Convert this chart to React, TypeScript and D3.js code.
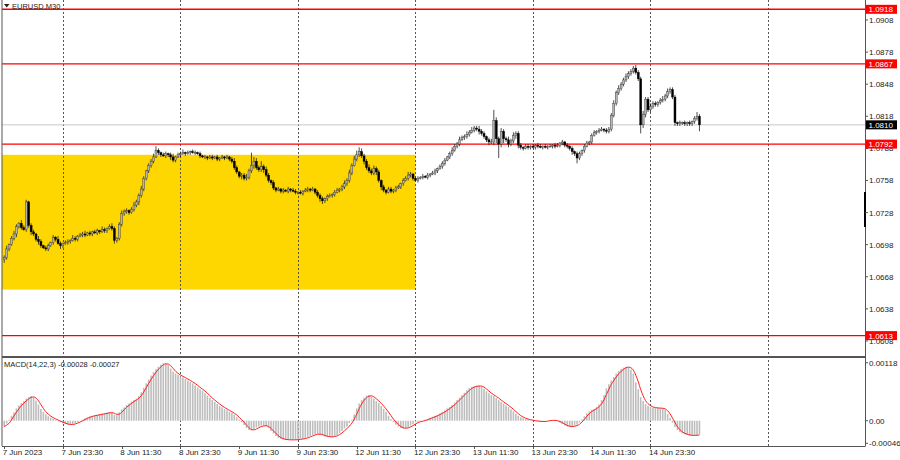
import React from "react";
import * as d3 from "d3";

// ---------- data ----------
const SYMBOL = "EURUSD,M30";
const BASE = 1.06; // closes are pips above this base
const PIP = 0.0001;
const FIRST_OPEN = 84;

const closes = [
  86, 94, 98, 104, 108, 115, 118, 114, 112, 138,
  116, 110, 108, 103, 101, 97, 95, 94, 97, 100,
  105, 103, 99, 97, 99, 100, 101, 102, 104, 103,
  106, 107, 108, 107, 109, 108, 110, 109, 111, 110,
  112, 111, 113, 115, 113, 102, 104, 117, 127, 129,
  130, 128, 131, 135, 138, 144, 150, 160, 167, 172,
  176, 180, 186, 184, 182, 181, 183, 182, 180, 177,
  180, 182, 183, 184, 183, 184, 185, 184, 184, 183,
  181, 180, 180, 179, 180, 179, 180, 178, 179, 180,
  179, 180, 178, 176, 170, 166, 162, 163, 160, 161,
  167, 172, 176, 170, 168, 171, 168, 163, 158, 156,
  151, 149, 150, 148, 149, 148, 150, 149, 148, 147,
  147, 146, 148, 149, 150, 149, 150, 147, 144, 141,
  139, 141, 143, 144, 145, 147, 149, 150, 152, 155,
  158, 165, 172, 178, 182, 185, 181, 176, 170, 167,
  165, 169, 166, 158, 152, 149, 147, 150, 148, 149,
  151, 152, 155, 158, 160, 163, 164, 160, 158, 160,
  161, 162, 161, 163, 164, 165, 167, 169, 171, 174,
  177, 180, 183, 186, 190, 192, 196, 198, 199, 201,
  203, 205, 207, 206, 204, 202, 199, 196, 194, 194,
  214, 197, 192, 204, 197, 196, 192, 195, 200, 202,
  191, 189, 188, 190, 189, 190, 189, 191, 190, 189,
  190, 189, 190, 190, 191, 190, 191, 193, 194, 191,
  190, 188, 185, 183, 179, 183, 186, 190, 193, 194,
  200, 203, 204, 205, 206, 205, 204, 206, 219, 230,
  240, 244, 248, 252, 255, 258, 260, 263, 259, 253,
  210, 220, 234, 224, 227, 230, 229, 231, 233, 234,
  237, 241, 243, 236, 212, 211, 212, 212, 211, 212,
  211, 213, 216, 218, 210,
];

const upperWicks = [
  2, 3, 1, 2, 3, 2, 1, 3, 2, 2,
  1, 2, 2, 1, 3, 2, 1, 2, 2, 1,
  2, 1, 3, 2, 1, 2, 2, 1, 3, 2,
  1, 2, 2, 3, 1, 2, 1, 2, 2, 1,
  3, 2, 1, 2, 3, 2, 1, 2, 3, 2,
  2, 1, 2, 3, 2, 2, 3, 2, 1, 2,
  2, 3, 4, 2, 1, 2, 2, 1, 2, 3,
  1, 2, 2, 3, 1, 2, 1, 2, 2, 1,
  2, 1, 2, 1, 2, 2, 1, 2, 1, 2,
  1, 2, 1, 2, 3, 2, 1, 2, 2, 3,
  2, 12, 4, 3, 2, 5, 2, 3, 2, 1,
  2, 1, 2, 1, 2, 1, 2, 1, 2, 2,
  1, 2, 1, 2, 2, 1, 2, 1, 2, 2,
  2, 1, 2, 2, 1, 2, 2, 1, 2, 3,
  2, 3, 2, 3, 4, 4, 3, 2, 2, 3,
  2, 3, 2, 2, 1, 2, 1, 2, 2, 1,
  2, 2, 1, 2, 2, 3, 2, 1, 2, 2,
  1, 2, 1, 2, 1, 2, 2, 1, 2, 2,
  2, 1, 2, 3, 2, 2, 3, 2, 2, 3,
  2, 3, 2, 2, 3, 2, 2, 1, 2, 3,
  10, 3, 2, 3, 2, 2, 3, 2, 3, 2,
  2, 2, 1, 2, 2, 1, 2, 1, 2, 2,
  1, 2, 1, 2, 1, 2, 2, 1, 2, 1,
  2, 1, 2, 1, 2, 2, 1, 2, 2, 1,
  2, 2, 1, 2, 2, 1, 2, 2, 2, 3,
  2, 3, 2, 2, 3, 2, 2, 2, 3, 2,
  2, 3, 2, 2, 3, 2, 2, 1, 2, 3,
  2, 3, 2, 2, 2, 1, 2, 1, 2, 1,
  2, 1, 2, 4, 2,
];

const lowerWicks = [
  3, 2, 2, 1, 2, 3, 2, 2, 1, 2,
  2, 3, 2, 2, 3, 2, 1, 2, 2, 1,
  2, 2, 1, 3, 2, 1, 2, 2, 1, 2,
  2, 1, 2, 2, 1, 2, 2, 1, 2, 2,
  1, 2, 2, 1, 2, 3, 2, 2, 2, 2,
  2, 2, 1, 2, 2, 3, 2, 2, 2, 2,
  2, 2, 1, 2, 2, 1, 2, 2, 3, 2,
  2, 1, 2, 1, 2, 1, 2, 1, 2, 1,
  2, 1, 2, 2, 1, 2, 1, 2, 2, 1,
  2, 1, 2, 2, 2, 2, 2, 3, 2, 2,
  2, 2, 3, 2, 2, 2, 3, 2, 2, 2,
  2, 2, 1, 2, 2, 1, 2, 2, 1, 2,
  2, 1, 2, 1, 2, 2, 1, 2, 2, 3,
  3, 2, 2, 1, 2, 2, 1, 2, 2, 2,
  2, 2, 2, 1, 2, 2, 2, 3, 2, 2,
  2, 2, 3, 2, 3, 2, 2, 1, 2, 2,
  2, 1, 2, 2, 1, 2, 2, 2, 1, 2,
  1, 2, 1, 2, 2, 1, 2, 2, 1, 2,
  2, 1, 2, 2, 1, 2, 2, 1, 2, 2,
  2, 1, 2, 2, 3, 2, 2, 2, 3, 2,
  3, 4, 13, 3, 4, 2, 3, 2, 2, 3,
  3, 2, 2, 1, 2, 2, 1, 2, 2, 1,
  2, 1, 2, 1, 2, 2, 1, 2, 2, 2,
  2, 2, 3, 2, 5, 2, 2, 2, 1, 2,
  2, 1, 2, 2, 1, 2, 2, 2, 2, 2,
  2, 2, 2, 2, 2, 2, 2, 2, 2, 2,
  8, 3, 3, 2, 2, 2, 2, 2, 2, 2,
  2, 2, 2, 2, 3, 2, 2, 2, 2, 2,
  2, 2, 2, 2, 6,
];

// MACD main values, in units of 0.00001
const macdHist = [
  -12, -6, 2, 10, 17, 25, 31, 36, 40, 45,
  48, 50, 47, 41, 33, 24, 18, 13, 9, 6,
  4, 1, -1, -3, -5, -7, -8, -8, -7, -5,
  -3, 0, 2, 5, 7, 9, 10, 11, 12, 13,
  14, 15, 16, 17, 16, 12, 11, 17, 23, 27,
  32, 35, 39, 42, 45, 50, 58, 67, 76, 84,
  92, 99, 105, 110, 114, 117, 116, 113, 106, 100,
  96, 93, 90, 88, 85, 82, 79, 76, 72, 68,
  64, 61, 56, 51, 46, 42, 38, 34, 30, 27,
  24, 21, 18, 16, 12, 7, 2, -3, -9, -15,
  -19, -20, -17, -14, -12, -10, -10, -11, -15, -21,
  -26, -31, -35, -37, -38, -39, -39, -39, -39, -39,
  -38, -37, -37, -35, -33, -31, -29, -27, -27, -28,
  -30, -32, -33, -33, -33, -31, -29, -25, -21, -16,
  -12, -5, 2, 13, 25, 35, 42, 47, 51, 52,
  49, 45, 40, 36, 30, 24, 18, 10, 3, -3,
  -8, -12, -15, -16, -15, -13, -10, -7, -3, -2,
  -1, 0, 2, 4, 6, 8, 10, 12, 15, 18,
  21, 25, 28, 32, 37, 42, 47, 52, 57, 62,
  66, 69, 70, 71, 71, 69, 65, 60, 56, 52,
  50, 46, 42, 38, 35, 31, 28, 23, 19, 14,
  10, 7, 5, 3, 2, 1, 0, -1, -1, -2,
  -2, -1, 0, 1, 1, 0, -1, -4, -7, -10,
  -12, -12, -12, -10, -8, -4, 3, 9, 15, 19,
  22, 24, 28, 33, 42, 52, 66, 74, 82, 89,
  96, 101, 105, 108, 110, 109, 104, 96, 78, 64,
  48, 40, 34, 30, 28, 26, 26, 26, 25, 25,
  22, 14, 6, -4, -13, -19, -23, -26, -28, -29,
  -30, -30, -30, -29, -28,
];
const MACD_UNIT = 0.00001;
const SIGNAL_PERIOD = 3;

const timeLabels = [
  "7 Jun 2023", "7 Jun 23:30", "8 Jun 11:30", "8 Jun 23:30", "9 Jun 11:30", "9 Jun 23:30",
  "12 Jun 11:30", "12 Jun 23:30", "13 Jun 11:30", "13 Jun 23:30", "14 Jun 11:30", "14 Jun 23:30",
];
const timeLabelBars = [0, 24, 48, 72, 96, 120, 144, 168, 192, 216, 240, 264];
const gridBars = [24, 72, 120, 168, 216, 264, 312];

const priceTicks = [1.0908, 1.0878, 1.0848, 1.0818, 1.0788, 1.0758, 1.0728, 1.0698, 1.0668, 1.0638, 1.0608];
const levels = [1.0918, 1.0867, 1.0792, 1.0613];
const currentPrice = 1.081;
const zoneEndBar = 168;
const zoneHigh = 1.0782;
const zoneLow = 1.0656;

const macdTicks = [0.00118, 0, -0.00046];
const macdTickLabels = ["0.00118", "0.00", "-0.00046"];
const macdLabel = "MACD(14,22,3) -0.00028 -0.00027";

// ---------- layout ----------
const W = 900;
const H = 460;
const LEFT = 2;
const AXIS_X = 865;
const MAIN_BOTTOM = 357;
const MACD_TOP = 358;
const MACD_BOTTOM = 446;
const FONT = "'Liberation Sans', Arial, sans-serif";

export default function App() {
  const x = d3.scaleLinear().domain([0, 312]).range([4.2, 768]);
  const y = d3.scaleLinear().domain([1.0593, 1.09267]).range([MAIN_BOTTOM, 0]);
  const my = d3.scaleLinear().domain([-0.000515, 0.001276]).range([MACD_BOTTOM, MACD_TOP]);

  const candles = closes.map((c, i) => {
    const o = i === 0 ? FIRST_OPEN : closes[i - 1];
    const hi = Math.max(o, c) + upperWicks[i];
    const lo = Math.min(o, c) - lowerWicks[i];
    return {
      i,
      open: BASE + o * PIP,
      close: BASE + c * PIP,
      high: BASE + hi * PIP,
      low: BASE + lo * PIP,
    };
  });

  const macd = macdHist.map((v) => v * MACD_UNIT);
  const signal = macd.map((_, i) => {
    const s = macd.slice(Math.max(0, i - SIGNAL_PERIOD + 1), i + 1);
    return d3.mean(s) as number;
  });
  const signalLine = d3
    .line<number>()
    .x((_, i) => x(i))
    .y((d) => my(d))
    .curve(d3.curveMonotoneX)(signal);

  const fmt = d3.format(".4f");
  const bodyW = 2;

  return (
    <svg
      width={W}
      height={H}
      style={{ position: "absolute", left: 0, top: 0, display: "block", background: "#fff" }}
      fontFamily={FONT}
    >
      <rect x={0} y={0} width={W} height={H} fill="#fff" />

      {/* yellow zone */}
      <rect
        x={LEFT}
        y={y(zoneHigh)}
        width={x(zoneEndBar) - LEFT}
        height={y(zoneLow) - y(zoneHigh)}
        fill="#ffd700"
      />

      {/* vertical dotted grid */}
      {gridBars.map((b) => (
        <line
          key={"g" + b}
          x1={Math.round(x(b)) + 0.5}
          x2={Math.round(x(b)) + 0.5}
          y1={0}
          y2={MACD_BOTTOM}
          stroke="#555"
          strokeWidth={1}
          strokeDasharray="2,2"
        />
      ))}

      {/* current price line */}
      <line x1={LEFT} x2={AXIS_X} y1={y(currentPrice)} y2={y(currentPrice)} stroke="#c8c8c8" strokeWidth={1} />

      {/* level lines */}
      {levels.map((l) => (
        <line key={"l" + l} x1={LEFT} x2={AXIS_X} y1={y(l)} y2={y(l)} stroke="#ff0000" strokeWidth={1.4} />
      ))}

      {/* candles */}
      {candles.map((d) => {
        const cx = x(d.i);
        const bull = d.close >= d.open;
        const top = y(Math.max(d.open, d.close));
        const bot = y(Math.min(d.open, d.close));
        return (
          <g key={"c" + d.i}>
            <line x1={cx} x2={cx} y1={y(d.high)} y2={y(d.low)} stroke="#222" strokeWidth={0.8} />
            <rect
              x={cx - bodyW / 2}
              y={top}
              width={bodyW}
              height={Math.max(0.8, bot - top)}
              fill={bull ? "#b4b4b4" : "#000"}
              stroke={bull ? "#333" : "#000"}
              strokeWidth={0.4}
            />
          </g>
        );
      })}

      {/* MACD histogram */}
      {macd.map((v, i) => (
        <rect
          key={"m" + i}
          x={x(i) - 0.8}
          y={Math.min(my(v), my(0))}
          width={1.6}
          height={Math.abs(my(v) - my(0))}
          fill="#bdbdbd"
        />
      ))}
      <path d={signalLine || ""} fill="none" stroke="#ff2020" strokeWidth={1} />

      {/* frame */}
      <line x1={LEFT} x2={LEFT} y1={0} y2={MACD_BOTTOM} stroke="#555" strokeWidth={1} />
      <line x1={AXIS_X + 0.5} x2={AXIS_X + 0.5} y1={0} y2={MACD_BOTTOM} stroke="#555" strokeWidth={1} />
      <line x1={LEFT} x2={AXIS_X} y1={MAIN_BOTTOM} y2={MAIN_BOTTOM} stroke="#555" strokeWidth={2} />
      <line x1={LEFT} x2={AXIS_X + 0.5} y1={MACD_BOTTOM + 0.5} y2={MACD_BOTTOM + 0.5} stroke="#555" strokeWidth={1} />

      {/* current bar marker on axis */}
      <rect x={AXIS_X - 1} y={192} width={2} height={35} fill="#000" />

      {/* header */}
      <path d="M4,4 L9.5,4 L6.75,7.5 Z" fill="#222" />
      <text x={12} y={9} fontSize={7.5} fill="#222">
        {SYMBOL}
      </text>

      {/* price axis */}
      {priceTicks.map((p) => (
        <g key={"p" + p}>
          <line x1={AXIS_X} x2={AXIS_X + 3} y1={y(p)} y2={y(p)} stroke="#555" />
          <text x={869} y={y(p) + 3} fontSize={8} fill="#222">
            {fmt(p)}
          </text>
        </g>
      ))}

      {/* level labels */}
      {levels.map((l) => (
        <g key={"ll" + l}>
          <rect x={866} y={y(l) - 4.5} width={31} height={9} fill="#ff0000" />
          <text x={868.5} y={y(l) + 3} fontSize={8} fill="#fff">
            {fmt(l)}
          </text>
        </g>
      ))}
      <rect x={866} y={y(currentPrice) - 4.5} width={31} height={9} fill="#000" />
      <text x={868.5} y={y(currentPrice) + 3} fontSize={8} fill="#fff">
        {fmt(currentPrice)}
      </text>

      {/* MACD axis */}
      {macdTicks.map((t, k) => (
        <g key={"mt" + k}>
          <line x1={AXIS_X} x2={AXIS_X + 3} y1={my(t)} y2={my(t)} stroke="#555" />
          <text x={869} y={my(t) + 3} fontSize={8} fill="#222">
            {macdTickLabels[k]}
          </text>
        </g>
      ))}
      <text x={4} y={367} fontSize={7.5} fill="#222">
        {macdLabel}
      </text>

      {/* time axis */}
      {timeLabelBars.map((b, k) => (
        <g key={"t" + b}>
          <line x1={Math.round(x(b)) + 0.5} x2={Math.round(x(b)) + 0.5} y1={MACD_BOTTOM} y2={MACD_BOTTOM + 3} stroke="#555" />
          <text x={x(b) - 1.5} y={455} fontSize={8} fill="#222">
            {timeLabels[k]}
          </text>
        </g>
      ))}
    </svg>
  );
}
